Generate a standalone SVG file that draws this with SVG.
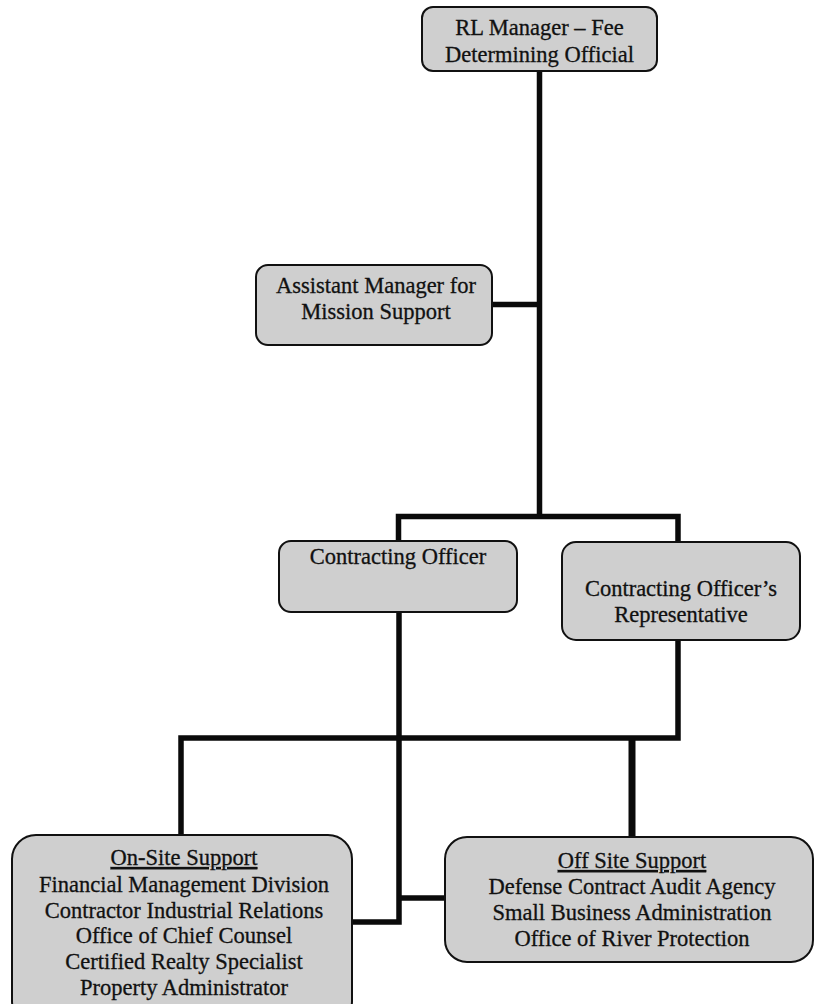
<svg xmlns="http://www.w3.org/2000/svg" width="814" height="1004" viewBox="0 0 814 1004">
  <style>
    .box { fill: #cfcfcf; stroke: #111; stroke-width: 2; }
    .conn { fill: none; stroke: #0a0a0a; stroke-width: 5.5; stroke-linejoin: miter; stroke-linecap: butt; }
    .lbl { font-family: "Liberation Serif", "Times New Roman", serif; font-size: 22.5px; fill: #111; stroke: #111; stroke-width: 0.3; text-anchor: middle; }
    .ul { text-decoration: underline; }
  </style>
  <rect width="814" height="1004" fill="#ffffff"/>
  <g id="connectors">
    <path class="conn" d="M539.5,71 V516.5"/>
    <path class="conn" d="M398.5,541 V516.5 H678 V542"/>
    <path class="conn" d="M492,304.5 H539.5"/>
    <path class="conn" d="M399,612 V922 H352"/>
    <path class="conn" d="M399,898 H445"/>
    <path class="conn" d="M678,640 V738 H181 V835"/>
    <path class="conn" d="M632,738 V837" style="stroke-width:7"/>
  </g>
  <g id="rl-manager">
    <rect class="box" x="422" y="7" width="235" height="64" rx="11"/>
    <text class="lbl" x="539.5" y="35">RL Manager – Fee</text>
    <text class="lbl" x="539.5" y="62">Determining Official</text>
  </g>
  <g id="assistant-manager">
    <rect class="box" x="256" y="265" width="236" height="80" rx="12"/>
    <text class="lbl" x="376" y="293">Assistant Manager for</text>
    <text class="lbl" x="376" y="319">Mission Support</text>
  </g>
  <g id="contracting-officer">
    <rect class="box" x="279" y="541" width="238" height="71" rx="12"/>
    <text class="lbl" x="398" y="564">Contracting Officer</text>
  </g>
  <g id="cor">
    <rect class="box" x="562" y="542" width="238" height="98" rx="14"/>
    <text class="lbl" x="681" y="596">Contracting Officer’s</text>
    <text class="lbl" x="681" y="622">Representative</text>
  </g>
  <g id="on-site-support">
    <rect class="box" x="12" y="835" width="340" height="190" rx="24"/>
    <text class="lbl ul" x="184" y="865">On-Site Support</text>
    <text class="lbl" x="184" y="892">Financial Management Division</text>
    <text class="lbl" x="184" y="918">Contractor Industrial Relations</text>
    <text class="lbl" x="184" y="943">Office of Chief Counsel</text>
    <text class="lbl" x="184" y="969">Certified Realty Specialist</text>
    <text class="lbl" x="184" y="995">Property Administrator</text>
  </g>
  <g id="off-site-support">
    <rect class="box" x="445" y="837" width="368" height="125" rx="22"/>
    <text class="lbl ul" x="632" y="868">Off Site Support</text>
    <text class="lbl" x="632" y="894">Defense Contract Audit Agency</text>
    <text class="lbl" x="632" y="920">Small Business Administration</text>
    <text class="lbl" x="632" y="946">Office of River Protection</text>
  </g>
</svg>
